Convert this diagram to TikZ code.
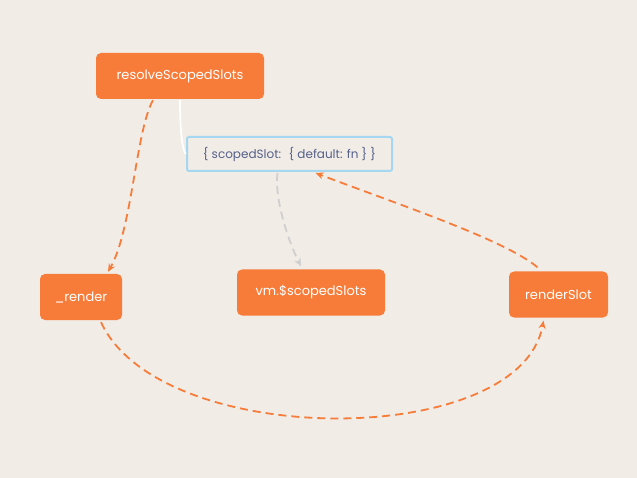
\documentclass[tikz,border=0pt]{standalone}
\usepackage{fontspec}
\setmainfont{Poppins}
\usetikzlibrary{arrows.meta,calc}

\definecolor{paper}{HTML}{F1ECE6}
\definecolor{slotorange}{HTML}{F77C3A}
\definecolor{slotblue}{HTML}{A5D8F0}
\definecolor{slottext}{HTML}{56608A}
\definecolor{slotgray}{HTML}{CFCFCF}

\begin{document}
\begin{tikzpicture}[x=1pt, y=-1pt]
    \tikzset{fnbox/.style={fill=slotorange, rounded corners=5pt, text=white,
                font=\fontsize{13}{15}\selectfont, inner sep=0pt, minimum height=46pt}}
    \tikzset{call/.style={draw=slotorange, line width=1.8pt, dash pattern=on 8pt off 5pt, -{Stealth[length=8pt,width=7pt]}}}
    \fill[paper] (0,0) rectangle (637,478);
    \useasboundingbox (0,0) rectangle (637,478);

    % function boxes
    \node[fnbox, minimum width=168pt] (resolve) at (180,76) {resolveScopedSlots};
    \node[fnbox, minimum width=82pt]  (render)  at (81,297) {\_render};
    \node[fnbox, minimum width=148pt] (vmslots) at (311,292.5) {vm.\$scopedSlots};
    \node[fnbox, minimum width=99pt]  (rslot)   at (558.5,294.5) {renderSlot};

    % returned object
    \node[draw=slotblue, line width=2pt, rounded corners=2pt, fill=paper, text=slottext,
          font=\fontsize{12}{14}\selectfont, minimum width=205pt, minimum height=34pt, inner sep=0pt]
          (obj) at (289.5,154) {\{ scopedSlot: \ \{ default: fn \} \}};

    \draw[white, line width=1.8pt] ($(resolve.south)+(0,1)$) .. controls (180,135) and (183,152) .. (obj.west);
    \draw[call] ($(resolve.south)+(-27,1)$) .. controls (136,130) and (132,230) .. ($(render.north)+(27,-2)$);
    \draw[call, draw=slotgray] ($(obj.south)+(-12,1)$) .. controls (274,200) and (290,245) .. ($(vmslots.north)+(-10,-3)$);
    \draw[call] ($(render.south)+(20,2)$) .. controls (160,450) and (520,450) .. ($(rslot.south)+(-15,3)$);
    \draw[call] ($(rslot.north)+(-21,-4)$) .. controls (505,240) and (400,205) .. ($(obj.south)+(26,1)$);
\end{tikzpicture}
\end{document}
